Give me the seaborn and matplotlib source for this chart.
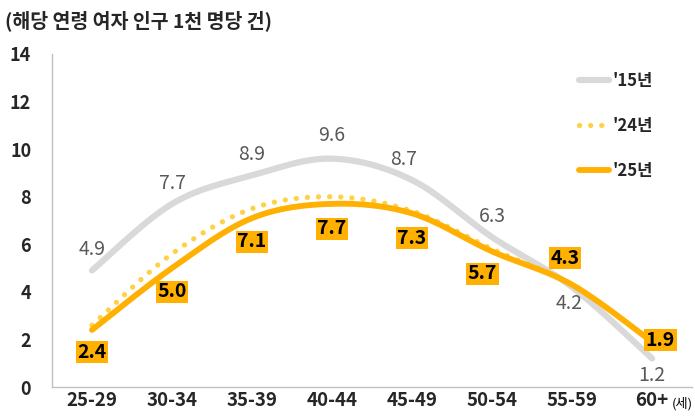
import numpy as np
import pandas as pd
import matplotlib
matplotlib.use("Agg")
import matplotlib.pyplot as plt
import matplotlib.transforms as mtransforms
import seaborn as sns

# data
ages = ['25-29', '30-34', '35-39', '40-44', '45-49', '50-54', '55-59', '60+']
rate_15 = [4.9, 7.7, 8.9, 9.6, 8.7, 6.3, 4.2, 1.2]
rate_24 = [2.6, 5.6, 7.5, 8.0, 7.4, 5.8, 4.3, 1.9]
rate_25 = [2.4, 5.0, 7.1, 7.7, 7.3, 5.7, 4.3, 1.9]

sns.set_theme(style="white")
plt.rcParams['font.family'] = ['Noto Sans CJK KR', 'DejaVu Sans']

GRAY = '#D9D9D9'
GOLD = '#FFB000'
DOT = '#FFD147'


def smooth(ys, n=30):
    # excel-like smoothed line (bezier through the points)
    p = np.column_stack([np.arange(len(ys)), ys]).astype(float)
    out = []
    for i in range(len(p) - 1):
        p0 = p[i - 1] if i > 0 else p[i]
        p1, p2 = p[i], p[i + 1]
        p3 = p[i + 2] if i + 2 < len(p) else p[i + 1]
        c1 = p1 + (p2 - p0) / 6
        c2 = p2 - (p3 - p1) / 6
        t = np.linspace(0, 1, n)[:, None]
        seg = ((1 - t) ** 3) * p1 + 3 * ((1 - t) ** 2) * t * c1 + 3 * (1 - t) * t ** 2 * c2 + t ** 3 * p2
        out.append(seg if i == 0 else seg[1:])
    out = np.vstack(out)
    return out[:, 0], out[:, 1]


fig = plt.figure(figsize=(6.95, 4.16), dpi=100)
ax = fig.add_axes([0.0748, 0.0697, 0.921, 0.8005])

x15, y15 = smooth(rate_15)
x24, y24 = smooth(rate_24)
x25, y25 = smooth(rate_25)

sns.lineplot(x=x15, y=y15, ax=ax, sort=False, estimator=None, color=GRAY,
             linewidth=4.5, solid_capstyle='round', label="'15년")
sns.lineplot(x=x24, y=y24, ax=ax, sort=False, estimator=None, color=DOT,
             linewidth=3.8, label="'24년")
ax.lines[-1].set_linestyle((0, (0.01, 2.1)))
ax.lines[-1].set_dash_capstyle('round')
sns.lineplot(x=x25, y=y25, ax=ax, sort=False, estimator=None, color=GOLD,
             linewidth=4.2, solid_capstyle='round', label="'25년")

# value labels ('15 in gray)
off15 = [(0, 15), (0, 15), (0, 15), (0, 17), (-6, 15), (0, 15), (-2, -12), (0, -12)]
for i, (v, (dx, dy)) in enumerate(zip(rate_15, off15)):
    ax.annotate(f"{v:.1f}", (i, v), xytext=(dx, dy), textcoords='offset points',
                ha='center', va='center', fontsize=14, color='#595959')

off25 = [(0, -16), (0, -17), (0, -17), (0, -18), (0, -18), (-7, -16), (-5, 19), (6, 1)]
for i, (v, (dx, dy)) in enumerate(zip(rate_25, off25)):
    ax.annotate(f"{v:.1f}", (i, v), xytext=(dx, dy), textcoords='offset points',
                ha='center', va='center', fontsize=14, color='black',
                fontweight='bold',
                bbox=dict(boxstyle='square,pad=0.08', fc=GOLD, ec='none'))

ax.set_xlim(-0.5, 7.5)
ax.set_ylim(0, 14)
ax.set_yticks(range(0, 15, 2))
ax.set_xticks(range(len(ages)))
ax.set_xticklabels(ages, fontsize=13.5, fontweight='bold')
ax.tick_params(axis='x', length=0, pad=3)
ax.tick_params(axis='y', length=5, color='#A6A6A6', direction='out', labelsize=13, pad=10)
for t in ax.get_yticklabels():
    t.set_fontweight('bold')
trans = mtransforms.blended_transform_factory(ax.transData, ax.transAxes)
ax.text(7.24, -0.05, '(세)', fontsize=9.5, ha='left', va='center', color='black',
        transform=trans)

for s in ['top', 'right']:
    ax.spines[s].set_visible(False)
for s in ['left', 'bottom']:
    ax.spines[s].set_color('#BFBFBF')
    ax.spines[s].set_linewidth(1)
ax.grid(False)

leg = ax.legend(loc='upper left', bbox_to_anchor=(0.80, 0.99), frameon=False,
                handlelength=1.8, handletextpad=0.2, labelspacing=1.6,
                prop={'weight': 'bold', 'size': 12})

fig.text(0.007, 0.95, '(해당 연령 여자 인구 1천 명당 건)', fontsize=14,
         fontweight='bold', ha='left', va='center')

fig.savefig('out.png', dpi=100)
